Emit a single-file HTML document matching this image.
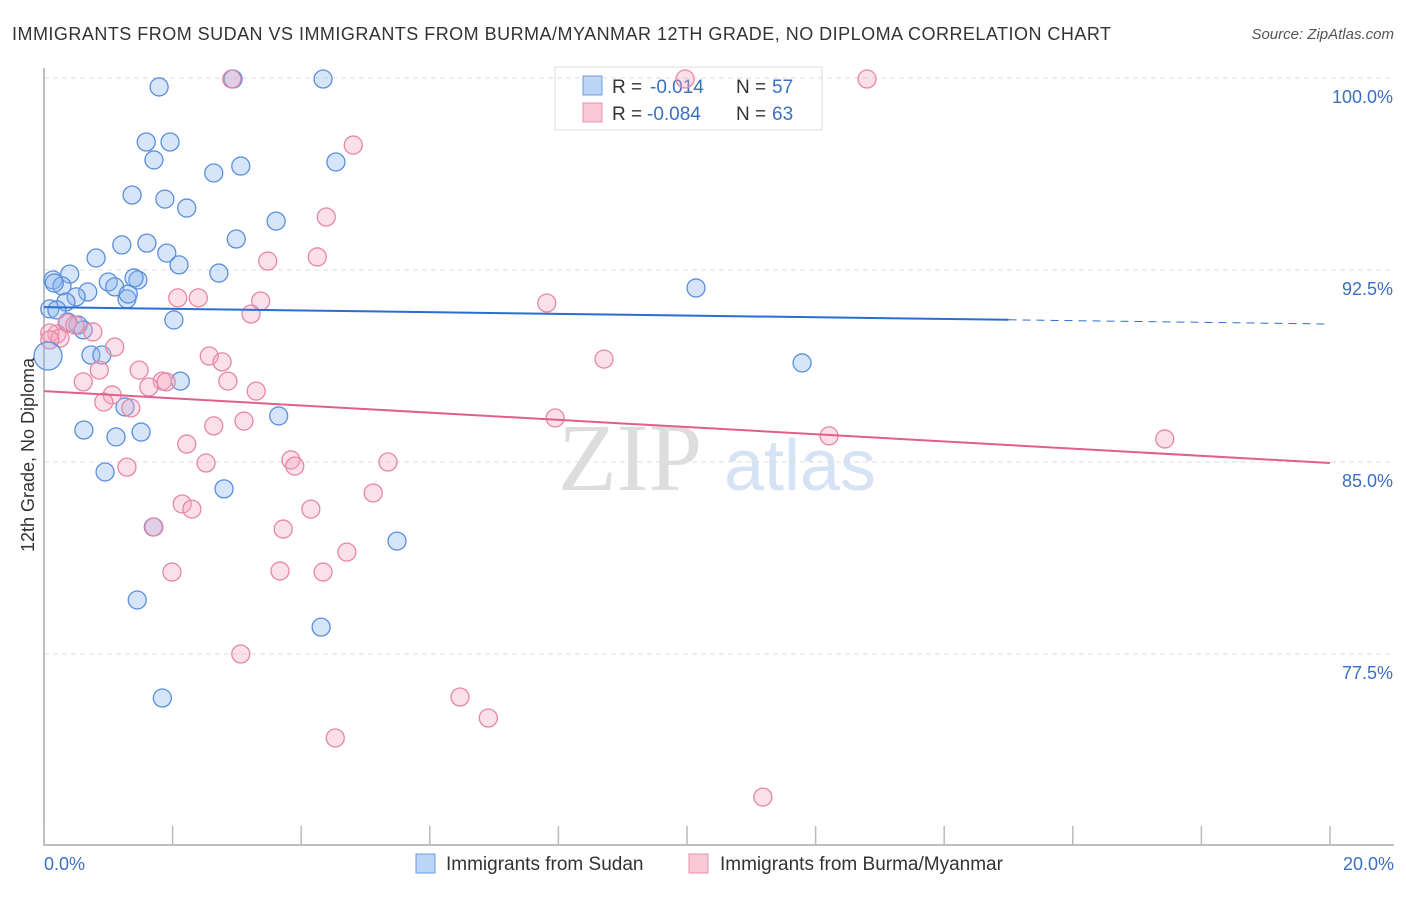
<!DOCTYPE html>
<html><head><meta charset="utf-8"><style>
body{margin:0;background:#fff;font-family:"Liberation Sans",sans-serif;}
</style></head><body>
<svg width="1406" height="892" xmlns="http://www.w3.org/2000/svg" id="svg">
<text x="12" y="40" font-size="18" fill="#333" textLength="1099" lengthAdjust="spacing">IMMIGRANTS FROM SUDAN VS IMMIGRANTS FROM BURMA/MYANMAR 12TH GRADE, NO DIPLOMA CORRELATION CHART</text>
<text x="1394" y="39" font-size="15" fill="#555" text-anchor="end" font-style="italic">Source: ZipAtlas.com</text>
<text x="630" y="490" font-size="96" fill="#ddd" text-anchor="middle" font-family="Liberation Serif">ZIP</text>
<text x="800" y="490" font-size="72" fill="#d6e3f5" text-anchor="middle">atlas</text>
<g>
<rect x="555" y="67" width="267" height="63" fill="#fff" stroke="#ddd"/>
<rect x="583" y="76" width="19" height="19" fill="#bcd4f5" stroke="#6d9de0"/>
<rect x="583" y="103" width="19" height="19" fill="#f9c9d7" stroke="#e890ab"/>
<text x="612" y="93" font-size="19" fill="#333">R =</text>
<text x="650" y="93" font-size="19" fill="#3a6fc4">-0.014</text>
<text x="736" y="93" font-size="19" fill="#333">N =</text>
<text x="772" y="93" font-size="19" fill="#3a6fc4">57</text>
<text x="612" y="120" font-size="19" fill="#333">R =</text>
<text x="647" y="120" font-size="19" fill="#3a6fc4">-0.084</text>
<text x="736" y="120" font-size="19" fill="#333">N =</text>
<text x="772" y="120" font-size="19" fill="#3a6fc4">63</text>
</g>
<g id="grid"></g><g id="axes"></g><g id="pts"></g><g id="trend"></g>
<text transform="translate(34,455) rotate(-90)" font-size="18" fill="#333" text-anchor="middle">12th Grade, No Diploma</text>
<text x="44" y="870" font-size="18" fill="#3a6fc4">0.0%</text>
<text x="1394" y="870" font-size="18" fill="#3a6fc4" text-anchor="end">20.0%</text>
<g>
<rect x="416" y="854" width="19" height="19" fill="#bcd4f5" stroke="#6d9de0"/>
<text x="446" y="870" font-size="19" fill="#333">Immigrants from Sudan</text>
<rect x="689" y="854" width="19" height="19" fill="#f9c9d7" stroke="#e890ab"/>
<text x="720" y="870" font-size="19" fill="#333">Immigrants from Burma/Myanmar</text>
</g>
</svg>
<script>
const yTicks=[100,92.5,85,77.5];
const yTickLabels=["100.0%","92.5%","85.0%","77.5%"];
const xTicks=[0,2,4,6,8,10,12,14,16,18,20];
const bluePx=[[159,87],[233,79],[323,79],[146,142],[170,142],[154,160],[336,162],[241,166],[214,173],[132,195],[165,199],[187,208],[276,221],[236,239],[122,245],[147,243],[167,253],[96,258],[179,265],[219,273],[70,274],[53,280],[108,282],[138,280],[134,278],[62,286],[115,287],[88,292],[76,297],[127,299],[128,294],[66,302],[50,309],[57,310],[174,320],[78,325],[83,330],[91,355],[102,355],[180,381],[125,407],[279,416],[116,437],[84,430],[141,432],[105,472],[224,489],[153,527],[397,541],[137,600],[321,627],[162,698],[696,288],[802,363],[54,283],[68,322]];
const pinkPx=[[232,79],[685,79],[867,79],[353,145],[326,217],[268,261],[317,257],[547,303],[178,298],[198,298],[261,301],[251,314],[67,323],[75,325],[93,332],[57,334],[50,333],[60,338],[115,347],[604,359],[209,356],[222,362],[139,370],[99,370],[83,382],[228,381],[162,381],[149,387],[166,382],[256,391],[112,395],[104,402],[131,408],[555,418],[244,421],[214,426],[187,444],[829,436],[1165,439],[127,467],[206,463],[291,460],[295,466],[388,462],[373,493],[182,504],[192,509],[311,509],[283,529],[154,527],[347,552],[172,572],[280,571],[323,572],[241,654],[460,697],[488,718],[335,738],[763,797],[50,340]];
const blueX=bluePx.map(p=>+((p[0]-44)/1286*20).toFixed(2));
const blueY=bluePx.map(p=>+(100-(p[1]-78)/192*7.5).toFixed(2));
const pinkX=pinkPx.map(p=>+((p[0]-44)/1286*20).toFixed(2));
const pinkY=pinkPx.map(p=>+(100-(p[1]-78)/192*7.5).toFixed(2));
const blueTrend=[91.05,90.39];
const pinkTrend=[87.77,84.96];
const NS="http://www.w3.org/2000/svg";
const xs=v=>44+v/20*1286, ys=v=>78+(100-v)/7.5*192;
function mk(t,a,parent){const e=document.createElementNS(NS,t);for(const k in a)e.setAttribute(k,a[k]);document.getElementById(parent).appendChild(e);return e;}
yTicks.forEach((v,i)=>{
 const l=mk('line',{x1:44,x2:1394,y1:ys(v),y2:ys(v),stroke:'#ddd','stroke-dasharray':'5,4'},'grid');
 
 
 const t=mk('text',{x:1393,y:ys(v)+25,'font-size':18,fill:'#3a6fc4','text-anchor':'end'},'grid');
 t.textContent=yTickLabels[i];
 
 
});
const ax=mk('path',{d:'M44,68 V845 H1394',fill:'none',stroke:'#aaa','stroke-width':1.5},'axes');


xTicks.forEach(v=>{const l=mk('line',{x1:xs(v),x2:xs(v),y1:826,y2:845,stroke:'#bbb','stroke-width':1.5},'axes');
 
 });
function pts(X,Y,fill,stroke,name){X.forEach((x,i)=>{const c=mk('circle',{cx:xs(x),cy:ys(Y[i]),r:9,fill:fill,'fill-opacity':0.35,stroke:stroke,'stroke-width':1.3},'pts');
 
 });}
pts(blueX,blueY,'#8ab4ee','#5a8fdc','sudan-point');
pts(pinkX,pinkY,'#f5a7bf','#e687a5','burma-point');
const big=mk('circle',{cx:48,cy:356,r:14,fill:'#8ab4ee','fill-opacity':0.35,stroke:'#5a8fdc','stroke-width':1.3},'pts');


const bxEnd=15;
const b1=mk('line',{x1:xs(0),y1:ys(blueTrend[0]),x2:xs(bxEnd),y2:ys(blueTrend[0]+(blueTrend[1]-blueTrend[0])*bxEnd/20),stroke:'#2a6fd0','stroke-width':2},'trend');


const b2=mk('line',{x1:xs(bxEnd),y1:ys(blueTrend[0]+(blueTrend[1]-blueTrend[0])*bxEnd/20),x2:xs(20),y2:ys(blueTrend[1]),stroke:'#2a6fd0','stroke-width':1,'stroke-dasharray':'8,6'},'trend');


const p1=mk('line',{x1:xs(0),y1:ys(pinkTrend[0]),x2:xs(20),y2:ys(pinkTrend[1]),stroke:'#e0608a','stroke-width':2},'trend');


</script>
</body></html>
